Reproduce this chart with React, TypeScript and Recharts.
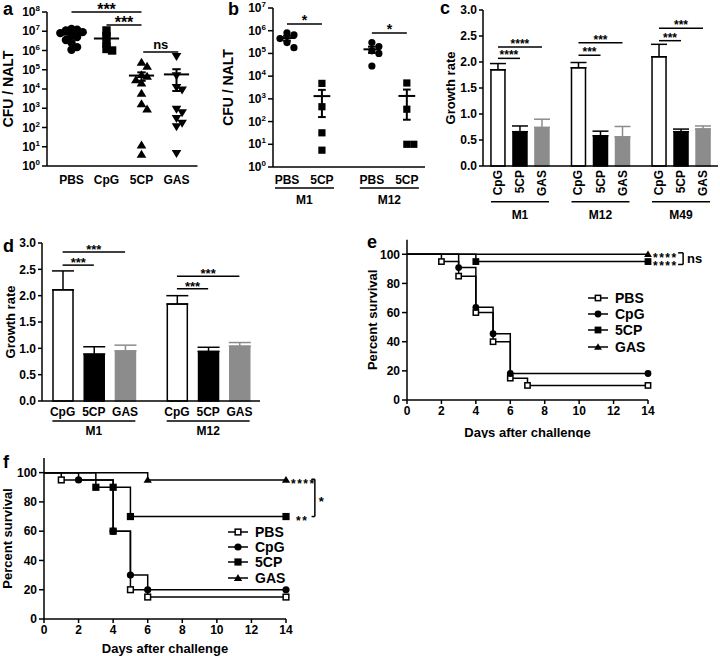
import React from "react";
import {
  ScatterChart,
  Scatter,
  BarChart,
  Bar,
  Cell,
  ErrorBar,
  LineChart,
  Line,
  XAxis,
  YAxis,
  ReferenceLine,
  LabelList,
  Legend,
} from "recharts";

const FONT = "'Liberation Sans', Arial, Helvetica, sans-serif";
const INK = "#000";
const GREY = "#8c8c8c";
const AXIS = { stroke: INK, strokeWidth: 1.5 };
const TICK = { fill: INK, fontSize: 12, fontWeight: 700 };

// ---- a: CFU / NALT per treatment (log scale)
const aGroups = ["PBS", "CpG", "5CP", "GAS"];
const aPBS = [1.3e7, 1.2e7, 1.1e7, 9e6, 8e6, 6e6, 5e6, 3.5e6, 2.5e6, 1.5e6, 1.1e6];
const aCpG = [1.1e7, 5.5e6, 2.3e6, 1.2e6, 1e6];
const a5CP = [2.4e5, 1.5e5, 5.5e4, 4.5e4, 3e4, 2e4, 6e3, 1.7e3, 9e2, 12, 4];
const aGAS = [5e5, 5e4, 1.2e4, 9e3, 9e2, 6e2, 3e2, 1.7e2, 1.1e2, 4.5];
const aTicks = [1, 1e1, 1e2, 1e3, 1e4, 1e5, 1e6, 1e7, 1e8];

// ---- b: CFU / NALT after M1 / M12 challenge
const bCats = ["PBS", "5CP", "PBS", "5CP"];
const bGroups = ["M1", "M12"];
const bM1PBS = [8e5, 6.5e5, 4.5e5, 3e5, 1.8e5];
const bM15CP = [4.8e3, 4.5e2, 32, 5.5];
const bM12PBS = [3e5, 2e5, 1.3e5, 1e5, 2.8e4];
const bM125CP = [5e3, 3.5e2, 10, 10];
const bTicks = [1, 1e1, 1e2, 1e3, 1e4, 1e5, 1e6, 1e7];

// ---- c / d: growth rate
const treatments = ["CpG", "5CP", "GAS"];
const growthTicks = [0, 0.5, 1, 1.5, 2, 2.5, 3];

const cGroups = ["M1", "M12", "M49"];
const cCpG = [1.85, 1.89, 2.1];
const cCpGErr = [0.12, 0.1, 0.24];
const c5CP = [0.66, 0.58, 0.66];
const c5CPErr = [0.11, 0.09, 0.05];
const cGAS = [0.74, 0.56, 0.71];
const cGASErr = [0.16, 0.2, 0.06];
const cSig = [
  { g: 0, to: 2, y: 2.29, text: "****" },
  { g: 0, to: 1, y: 2.07, text: "****" },
  { g: 1, to: 2, y: 2.37, text: "***" },
  { g: 1, to: 1, y: 2.13, text: "***" },
  { g: 2, to: 2, y: 2.65, text: "***" },
  { g: 2, to: 1, y: 2.41, text: "***" },
];

const dGroups = ["M1", "M12"];
const dCpG = [2.11, 1.84];
const dCpGErr = [0.36, 0.16];
const d5CP = [0.89, 0.94];
const d5CPErr = [0.14, 0.08];
const dGAS = [0.95, 1.04];
const dGASErr = [0.11, 0.07];
const dSig = [
  { g: 0, to: 2, y: 2.83, text: "***" },
  { g: 0, to: 1, y: 2.58, text: "***" },
  { g: 1, to: 2, y: 2.37, text: "***" },
  { g: 1, to: 1, y: 2.13, text: "***" },
];

// ---- e / f: survival (percent) by day
const dayTicks = [0, 2, 4, 6, 8, 10, 12, 14];
const survivalTicks = [0, 20, 40, 60, 80, 100];

const ePBSDays = [0, 2, 3, 4, 5, 6, 7, 14];
const ePBSPct = [100, 95, 85, 60, 40, 15, 10, 10];
const eCpGDays = [0, 3, 4, 5, 6, 14];
const eCpGPct = [100, 90.9, 63.6, 45.5, 18.2, 18.2];
const e5CPDays = [0, 4, 14];
const e5CPPct = [100, 95, 95];
const eGASDays = [0, 14];
const eGASPct = [100, 100];

const fPBSDays = [0, 1, 4, 5, 6, 14];
const fPBSPct = [100, 95, 60, 20, 15, 15];
const fCpGDays = [0, 2, 4, 5, 6, 14];
const fCpGPct = [100, 95, 60, 30, 20, 20];
const f5CPDays = [0, 3, 4, 5, 14];
const f5CPPct = [100, 90, 90, 70, 70];
const fGASDays = [0, 6, 14];
const fGASPct = [100, 95, 95];

const shapeOf: Record<string, string> = { PBS: "open", CpG: "circle", "5CP": "square", GAS: "triangle" };

// layout
const GROUP_STEP = 3.66;
const bPos = [0, 1, 2.43, 3.43];

function Marker({ shape, cx, cy, r }: { shape: string; cx: number; cy: number; r: number }) {
  if (cx == null || cy == null) return <g />;
  if (shape === "circle") return <circle cx={cx} cy={cy} r={r} fill={INK} />;
  if (shape === "square") return <rect x={cx - r} y={cy - r} width={2 * r} height={2 * r} fill={INK} />;
  if (shape === "open")
    return (
      <rect x={cx - r + 0.75} y={cy - r + 0.75} width={2 * r - 1.5} height={2 * r - 1.5} fill="#fff" stroke={INK} strokeWidth={1.5} />
    );
  if (shape === "down")
    return (
      <polygon points={`${cx},${cy + r * 1.1} ${cx + r * 1.15},${cy - r * 0.8} ${cx - r * 1.15},${cy - r * 0.8}`} fill={INK} />
    );
  return (
    <polygon points={`${cx},${cy - r * 1.1} ${cx + r * 1.15},${cy + r * 0.8} ${cx - r * 1.15},${cy + r * 0.8}`} fill={INK} />
  );
}

// spread points sideways when their log values sit close together
function swarm(values: number[], center: number, step: number, near: number) {
  const placed: { lv: number; k: number }[] = [];
  return values.map((v) => {
    const lv = Math.log10(v);
    const taken = placed.filter((p) => Math.abs(p.lv - lv) < near).map((p) => p.k);
    let n = 0;
    let k = 0;
    while (taken.includes(k)) {
      n += 1;
      k = n % 2 ? (n + 1) / 2 : -n / 2;
    }
    placed.push({ lv, k });
    return { x: center + k * step, y: v };
  });
}

function meanSem(x: number, vals: number[], half: number, cap: number, key: string) {
  const m = vals.reduce((s, v) => s + v, 0) / vals.length;
  const sd = Math.sqrt(vals.reduce((s, v) => s + (v - m) ** 2, 0) / (vals.length - 1));
  const se = sd / Math.sqrt(vals.length);
  const st = { stroke: INK, strokeWidth: 2, ifOverflow: "visible" as const };
  return [
    <ReferenceLine key={`${key}-m`} segment={[{ x: x - half, y: m }, { x: x + half, y: m }]} {...st} />,
    <ReferenceLine key={`${key}-v`} segment={[{ x, y: m - se }, { x, y: m + se }]} {...st} />,
    <ReferenceLine key={`${key}-hi`} segment={[{ x: x - cap, y: m + se }, { x: x + cap, y: m + se }]} {...st} />,
    <ReferenceLine key={`${key}-lo`} segment={[{ x: x - cap, y: m - se }, { x: x + cap, y: m - se }]} {...st} />,
  ];
}

function sig(x1: number, x2: number, y: number, text: string, key: string, fontSize: number, offset: number) {
  return (
    <ReferenceLine
      key={key}
      segment={[{ x: x1, y }, { x: x2, y }]}
      stroke={INK}
      strokeWidth={1.5}
      ifOverflow="visible"
      label={{ value: text, position: "top", offset, fill: INK, fontSize, fontWeight: 700 }}
    />
  );
}

const yTitle = (value: string, offset: number, fontSize: number) => ({
  value,
  angle: -90,
  position: "insideLeft" as const,
  offset,
  fill: INK,
  fontSize,
  fontWeight: 700,
  style: { textAnchor: "middle" as const },
});

function PowTick(p: any) {
  const e = Math.round(Math.log10(p.payload.value));
  return (
    <text x={p.x} y={p.y + 4} textAnchor="end" fill={INK} fontSize={12} fontWeight={700}>
      10
      <tspan dy={-5} fontSize={8}>
        {e}
      </tspan>
    </text>
  );
}

type TickItem = { v: number; text: string; kind: "cat" | "group" };
type TickOpts = { catDy: number; lineDy: number; groupDy: number; half: number; rotate?: boolean };

// one tick value can carry a bar label and a group label (group centre sits on the middle bar)
function axisTicks(items: TickItem[], o: TickOpts) {
  return (p: any) => {
    const hits = items.filter((t) => Math.abs(t.v - p.payload.value) < 1e-6);
    return (
      <g>
        {hits.map((it) => {
          if (it.kind === "group") {
            return (
              <g key={`g-${it.text}`}>
                <line x1={p.x - o.half} x2={p.x + o.half} y1={p.y + o.lineDy} y2={p.y + o.lineDy} stroke={INK} strokeWidth={1.5} />
                <text x={p.x} y={p.y + o.groupDy} textAnchor="middle" fill={INK} fontSize={12} fontWeight={700}>
                  {it.text}
                </text>
              </g>
            );
          }
          if (o.rotate) {
            const ty = p.y + o.catDy;
            return (
              <text
                key={`c-${it.text}`}
                x={p.x}
                y={ty}
                transform={`rotate(-90 ${p.x} ${ty})`}
                textAnchor="end"
                dominantBaseline="central"
                fill={INK}
                fontSize={12}
                fontWeight={700}
              >
                {it.text}
              </text>
            );
          }
          return (
            <text key={`c-${it.text}`} x={p.x} y={p.y + o.catDy} textAnchor="middle" fill={INK} fontSize={12} fontWeight={700}>
              {it.text}
            </text>
          );
        })}
      </g>
    );
  };
}

function uniq(vals: number[]) {
  return vals.filter((v, i) => vals.findIndex((w) => Math.abs(w - v) < 1e-6) === i);
}

function PanelA() {
  const sets = [aPBS, aCpG, a5CP, aGAS];
  const shapes = ["circle", "square", "triangle", "down"];
  const items: TickItem[] = aGroups.map((g, i) => ({ v: i, text: g, kind: "cat" }));
  return (
    <ScatterChart width={205} height={205} margin={{ top: 12, right: 7.5, bottom: 0, left: 0 }}>
      <XAxis
        type="number"
        dataKey="x"
        domain={[-0.7, 3.6]}
        ticks={items.map((t) => t.v)}
        interval={0}
        tickLine={false}
        tickSize={0}
        tickMargin={0}
        axisLine={AXIS}
        height={39}
        tick={axisTicks(items, { catDy: 18.3, lineDy: 0, groupDy: 0, half: 0 })}
      />
      <YAxis
        type="number"
        dataKey="y"
        scale="log"
        domain={[1, 1e8]}
        ticks={aTicks}
        interval={0}
        width={47}
        axisLine={AXIS}
        tickLine={AXIS}
        tickSize={5}
        tickMargin={2}
        tick={<PowTick />}
        label={yTitle("CFU / NALT", 8, 14)}
      />
      {sets.map((vals, i) => (
        <Scatter
          key={aGroups[i]}
          data={swarm(vals, i, 0.16, 0.28)}
          shape={(p: any) => <Marker shape={shapes[i]} cx={p.cx} cy={p.cy} r={4.2} />}
          isAnimationActive={false}
        />
      ))}
      {sets.flatMap((vals, i) => meanSem(i, vals, 0.36, 0.12, `a${i}`))}
      {sig(0, 2, 1e8, "***", "a-s1", 16, -3)}
      {sig(1, 2, 2.1e7, "***", "a-s2", 16, -3)}
      {sig(2.05, 3.05, 8.3e5, "ns", "a-s3", 13, 3)}
    </ScatterChart>
  );
}

function PanelB() {
  const sets = [bM1PBS, bM15CP, bM12PBS, bM125CP];
  const shapes = ["circle", "square", "circle", "square"];
  const items: TickItem[] = [
    ...bCats.map((c, i) => ({ v: bPos[i], text: c, kind: "cat" as const })),
    ...bGroups.map((g, gi) => ({ v: (bPos[gi * 2] + bPos[gi * 2 + 1]) / 2, text: g, kind: "group" as const })),
  ];
  return (
    <ScatterChart width={220} height={212} margin={{ top: 8, right: 10, bottom: 0, left: 0 }}>
      <XAxis
        type="number"
        dataKey="x"
        domain={[-0.4, 3.95]}
        ticks={uniq(items.map((t) => t.v))}
        interval={0}
        tickLine={false}
        tickSize={0}
        tickMargin={0}
        axisLine={AXIS}
        height={45}
        tick={axisTicks(items, { catDy: 17.3, lineDy: 21, groupDy: 37, half: 29.5 })}
      />
      <YAxis
        type="number"
        dataKey="y"
        scale="log"
        domain={[1, 1e7]}
        ticks={bTicks}
        interval={0}
        width={58}
        axisLine={AXIS}
        tickLine={AXIS}
        tickSize={5}
        tickMargin={2}
        tick={<PowTick />}
        label={yTitle("CFU / NALT", 13, 14)}
      />
      {sets.map((vals, i) => (
        <Scatter
          key={`b${i}`}
          data={swarm(vals, bPos[i], 0.2, 0.3)}
          shape={(p: any) => <Marker shape={shapes[i]} cx={p.cx} cy={p.cy} r={3.6} />}
          isAnimationActive={false}
        />
      ))}
      {sets.flatMap((vals, i) => meanSem(bPos[i], vals, 0.24, 0.11, `b${i}`))}
      {sig(bPos[0], bPos[1], 2e6, "*", "b-s1", 14, -1)}
      {sig(bPos[2], bPos[3], 8e5, "*", "b-s2", 14, -1)}
    </ScatterChart>
  );
}

type Sig = { g: number; to: number; y: number; text: string };

function GrowthChart(props: {
  groups: string[];
  means: number[][];
  errs: number[][];
  sigs: Sig[];
  width: number;
  height: number;
  margin: any;
  yWidth: number;
  xHeight: number;
  domain: [number, number];
  barSize: number;
  cap: number;
  ticks: TickOpts;
  sigFont: number;
  sigOffset: number;
  titleOffset: number;
}) {
  const fills: Record<string, string> = { CpG: "#fff", "5CP": INK, GAS: GREY };
  const rows = props.groups.flatMap((g, gi) =>
    treatments.map((t, ti) => ({
      x: gi * GROUP_STEP + ti,
      g,
      t,
      v: props.means[ti][gi],
      errK: t === "GAS" ? null : [0, props.errs[ti][gi]],
      errG: t === "GAS" ? [0, props.errs[ti][gi]] : null,
    }))
  );
  const items: TickItem[] = [
    ...rows.map((r) => ({ v: r.x, text: r.t, kind: "cat" as const })),
    ...props.groups.map((g, gi) => ({ v: gi * GROUP_STEP + 1, text: g, kind: "group" as const })),
  ];
  return (
    <BarChart width={props.width} height={props.height} data={rows} margin={props.margin}>
      <XAxis
        type="number"
        dataKey="x"
        domain={props.domain}
        ticks={uniq(items.map((t) => t.v))}
        interval={0}
        tickLine={false}
        tickSize={0}
        tickMargin={0}
        axisLine={AXIS}
        height={props.xHeight}
        tick={axisTicks(items, props.ticks)}
      />
      <YAxis
        type="number"
        domain={[0, 3]}
        ticks={growthTicks}
        interval={0}
        width={props.yWidth}
        axisLine={AXIS}
        tickLine={AXIS}
        tickSize={4}
        tickMargin={2}
        tick={TICK}
        tickFormatter={(v: number) => v.toFixed(1)}
        label={yTitle("Growth rate", props.titleOffset, 13)}
      />
      <Bar dataKey="v" barSize={props.barSize} isAnimationActive={false}>
        {rows.map((r) => (
          <Cell key={`${r.g}-${r.t}`} fill={fills[r.t]} stroke={r.t === "CpG" ? INK : fills[r.t]} strokeWidth={1.5} />
        ))}
        <ErrorBar dataKey="errK" direction="y" width={props.cap} stroke={INK} strokeWidth={1.5} />
        <ErrorBar dataKey="errG" direction="y" width={props.cap} stroke={GREY} strokeWidth={1.5} />
      </Bar>
      {props.sigs.map((s, i) =>
        sig(s.g * GROUP_STEP, s.g * GROUP_STEP + s.to, s.y, s.text, `sig${i}`, props.sigFont, props.sigOffset)
      )}
    </BarChart>
  );
}

type Curve = { name: string; days: number[]; pct: number[]; note?: string; noteGap?: number };
type Bracket = { x: number; tick: number; top: number; bottom: number; text: string; dy: number };

function noteLabel(text: string, last: number, gap: number) {
  return (p: any) =>
    p.index === last ? (
      <text x={p.x + gap} y={p.y + 8} fill={INK} fontSize={12} fontWeight={700} letterSpacing={1.5}>
        {text}
      </text>
    ) : null;
}

function legendContent(names: string[], r: number, rowH: number) {
  return () => (
    <div style={{ fontFamily: FONT, fontWeight: 700, fontSize: 14, color: INK }}>
      {names.map((n) => (
        <div key={n} style={{ display: "flex", alignItems: "center", height: rowH }}>
          <svg width={22} height={12}>
            <line x1={1} x2={21} y1={6} y2={6} stroke={INK} strokeWidth={1.5} />
            <Marker shape={shapeOf[n]} cx={11} cy={6} r={r} />
          </svg>
          <span style={{ marginLeft: 6 }}>{n}</span>
        </div>
      ))}
    </div>
  );
}

function SurvivalChart(props: {
  curves: Curve[];
  bracket: Bracket;
  width: number;
  height: number;
  margin: any;
  yWidth: number;
  xHeight: number;
  xTitleOffset: number;
  yTitleOffset: number;
  legendAt: { left: number; top: number };
  rowH: number;
  r: number;
}) {
  const b = props.bracket;
  const st = { stroke: INK, strokeWidth: 1.5, ifOverflow: "visible" as const };
  return (
    <LineChart width={props.width} height={props.height} margin={props.margin}>
      <XAxis
        type="number"
        dataKey="d"
        domain={[0, 14]}
        ticks={dayTicks}
        interval={0}
        axisLine={AXIS}
        tickLine={AXIS}
        tickSize={4}
        tickMargin={2}
        tick={TICK}
        height={props.xHeight}
        label={{
          value: "Days after challenge",
          position: "insideBottom",
          offset: props.xTitleOffset,
          fill: INK,
          fontSize: 13,
          fontWeight: 700,
        }}
      />
      <YAxis
        type="number"
        domain={[0, 110]}
        ticks={survivalTicks}
        interval={0}
        width={props.yWidth}
        axisLine={AXIS}
        tickLine={AXIS}
        tickSize={5}
        tickMargin={2}
        tick={TICK}
        label={yTitle("Percent survival", props.yTitleOffset, 13)}
      />
      {props.curves.map((c) => (
        <Line
          key={c.name}
          name={c.name}
          data={c.days.map((d, i) => ({ d, p: c.pct[i] }))}
          dataKey="p"
          type="stepAfter"
          stroke={INK}
          strokeWidth={1.5}
          activeDot={false}
          isAnimationActive={false}
          dot={(p: any) =>
            p.index === 0 ? (
              <g key={`${c.name}-${p.index}`} />
            ) : (
              <Marker key={`${c.name}-${p.index}`} shape={shapeOf[c.name]} cx={p.cx} cy={p.cy} r={props.r} />
            )
          }
        >
          {c.note ? <LabelList dataKey="p" content={noteLabel(c.note, c.days.length - 1, c.noteGap || 5)} /> : null}
        </Line>
      ))}
      <Legend
        layout="vertical"
        align="center"
        verticalAlign="middle"
        wrapperStyle={{ left: props.legendAt.left, top: props.legendAt.top, width: "auto" }}
        content={legendContent(
          props.curves.map((c) => c.name),
          props.r,
          props.rowH
        )}
      />
      <ReferenceLine
        segment={[{ x: b.x, y: b.top }, { x: b.x, y: b.bottom }]}
        {...st}
        label={{ value: b.text, position: "right", offset: 4, fill: INK, fontSize: 13, fontWeight: 700, dy: b.dy }}
      />
      <ReferenceLine segment={[{ x: b.tick, y: b.top }, { x: b.x, y: b.top }]} {...st} />
      <ReferenceLine segment={[{ x: b.tick, y: b.bottom }, { x: b.x, y: b.bottom }]} {...st} />
    </LineChart>
  );
}

const letters: [string, number, number][] = [
  ["a", 3, 15],
  ["b", 228, 15],
  ["c", 440, 14],
  ["d", 3, 252],
  ["e", 367, 248],
  ["f", 3, 468],
];

export default function App() {
  const at = (left: number, top: number) => ({ position: "absolute" as const, left, top });
  const eCurves: Curve[] = [
    { name: "PBS", days: ePBSDays, pct: ePBSPct },
    { name: "CpG", days: eCpGDays, pct: eCpGPct },
    { name: "5CP", days: e5CPDays, pct: e5CPPct, note: "****", noteGap: 5 },
    { name: "GAS", days: eGASDays, pct: eGASPct, note: "****", noteGap: 5 },
  ];
  const fCurves: Curve[] = [
    { name: "PBS", days: fPBSDays, pct: fPBSPct },
    { name: "CpG", days: fCpGDays, pct: fCpGPct },
    { name: "5CP", days: f5CPDays, pct: f5CPPct, note: "**", noteGap: 10 },
    { name: "GAS", days: fGASDays, pct: fGASPct, note: "****", noteGap: 5 },
  ];
  return (
    <div
      style={{
        position: "absolute",
        left: 0,
        top: 0,
        width: 720,
        height: 656,
        background: "#fff",
        fontFamily: FONT,
        fontWeight: 700,
        overflow: "hidden",
      }}
    >
      <div style={at(0, 0)}>
        <PanelA />
      </div>
      <div style={at(215, 0)}>
        <PanelB />
      </div>
      <div style={at(440, 0)}>
        <GrowthChart
          groups={cGroups}
          means={[cCpG, c5CP, cGAS]}
          errs={[cCpGErr, c5CPErr, cGASErr]}
          sigs={cSig}
          width={280}
          height={225}
          margin={{ top: 10, right: 2, bottom: 0, left: 0 }}
          yWidth={43}
          xHeight={59}
          domain={[-0.68, 10.0]}
          barSize={14}
          cap={8}
          ticks={{ catDy: 4, lineDy: 35.7, groupDy: 53, half: 29, rotate: true }}
          sigFont={12}
          sigOffset={-1}
          titleOffset={10}
        />
      </div>
      <div style={at(0, 225)}>
        <GrowthChart
          groups={dGroups}
          means={[dCpG, d5CP, dGAS]}
          errs={[dCpGErr, d5CPErr, dGASErr]}
          sigs={dSig}
          width={270}
          height={215}
          margin={{ top: 18, right: 10, bottom: 0, left: 0 }}
          yWidth={42}
          xHeight={39}
          domain={[-0.66, 6.32]}
          barSize={20}
          cap={11}
          ticks={{ catDy: 15, lineDy: 20, groupDy: 33.5, half: 41.5 }}
          sigFont={13}
          sigOffset={-2}
          titleOffset={10}
        />
      </div>
      <div style={at(360, 225)}>
        <SurvivalChart
          curves={eCurves}
          bracket={{ x: 16.04, tick: 15.75, top: 101, bottom: 93, text: "ns", dy: 0 }}
          width={360}
          height={213}
          margin={{ top: 14.7, right: 72, bottom: 0, left: 0 }}
          yWidth={47}
          xHeight={38}
          xTitleOffset={1.5}
          yTitleOffset={12}
          legendAt={{ left: 227, top: 65 }}
          rowH={16.2}
          r={3.4}
        />
      </div>
      <div style={at(0, 440)}>
        <SurvivalChart
          curves={fCurves}
          bracket={{ x: 15.67, tick: 15.48, top: 95.5, bottom: 70, text: "*", dy: 4 }}
          width={360}
          height={216}
          margin={{ top: 18, right: 74, bottom: 0, left: 0 }}
          yWidth={44}
          xHeight={37}
          xTitleOffset={3.5}
          yTitleOffset={7}
          legendAt={{ left: 227, top: 84 }}
          rowH={15.4}
          r={3.6}
        />
      </div>
      <svg width={720} height={656} style={{ position: "absolute", left: 0, top: 0, pointerEvents: "none" }}>
        {letters.map(([t, x, y]) => (
          <text key={t} x={x} y={y} fontSize={18} fontWeight={700} fill={INK} fontFamily={FONT}>
            {t}
          </text>
        ))}
      </svg>
    </div>
  );
}
